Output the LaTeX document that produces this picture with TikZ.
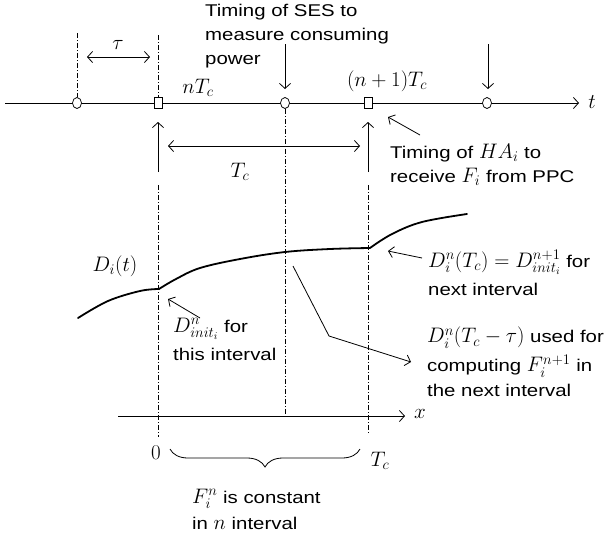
\RequirePackage{fix-cm}
\documentclass[tikz,border=0pt]{standalone}
\usepackage{fontspec}
\setmainfont[FakeStretch=1.2]{Liberation Sans}
\usetikzlibrary{arrows.meta,decorations.pathreplacing,shapes.geometric}
\newcommand{\MM}[1]{{\fontsize{21}{24}\selectfont$#1$}}
\begin{document}
\begin{tikzpicture}[x=1pt,y=-1pt,
  arr/.style={line width=0.8pt,-{Straight Barb[length=5pt,width=11pt]}},
  darr/.style={line width=0.8pt,{Straight Barb[length=5pt,width=11pt]}-{Straight Barb[length=5pt,width=11pt]}},
  dd/.style={line width=0.7pt,dash pattern=on 5pt off 2pt on 1pt off 2pt},
  txt/.style={font=\fontsize{17}{24}\selectfont, align=left, inner sep=0pt, anchor=north west},
  mtxt/.style={font=\fontsize{17}{28}\selectfont, align=left, inner sep=0pt, anchor=north west},
  lab/.style={font=\fontsize{21}{22}\selectfont, inner sep=0pt},
  circ/.style={draw, ellipse, minimum width=9pt, minimum height=11pt, inner sep=0pt, fill=white, line width=0.7pt},
  sq/.style={draw, rectangle, minimum width=8pt, minimum height=11pt, inner sep=0pt, fill=white, line width=0.7pt},
  curve/.style={line width=1.8pt, line cap=round, line join=round}]
\useasboundingbox (0,0) rectangle (613,544);

% time axis
\coordinate (t0) at (5,103);
\node[lab] (t) at (592,102) {$t$};
\coordinate (tend) at (579,103);
\draw[arr] (t0) -- (tend);

% vertical dash-dot lines
\coordinate (v1) at (77,33);
\coordinate (v2) at (158,35);
\coordinate (v2b) at (158,185);
\coordinate (v2e) at (158,437);
\coordinate (v3e) at (285,415);
\coordinate (v4b) at (368,185);
\coordinate (v4e) at (368,433);

\node[circ] (c1) at (77,103) {};
\node[sq] (s1) at (158,103) {};
\node[circ] (c2) at (285,103) {};
\node[sq] (s2) at (368,103) {};
\node[circ] (c3) at (487,103) {};

\draw[dd] (v1) -- (c1.north);
\draw[dd] (v2) -- (s1.north);
\draw[dd] (v2b) -- (v2e);
\draw[dd] (c2.south) -- (v3e);
\draw[dd] (v4b) -- (v4e);

% up arrows
\coordinate (a1s) at (158,172);
\coordinate (a1e) at (158,122);
\draw[arr] (a1s) -- (a1e);
\coordinate (a2s) at (368,172);
\coordinate (a2e) at (368,122);
\draw[arr] (a2s) -- (a2e);

% tau
\node[lab] (tau) at (118,45) {$\tau$};
\coordinate (ta) at (87,57);
\coordinate (tb) at (150,57);
\draw[darr] (ta) -- (tb);

\node[lab] (ntc) at (198,88) {$nT_c$};
\node[lab] (n1tc) at (387,81) {$(n+1)T_c$};

% Tc
\coordinate (ca) at (168,146);
\coordinate (cb) at (360,146);
\draw[darr] (ca) -- (cb);
\node[lab] (tcl) at (240,172) {$T_c$};

% SES text and down arrows
\node[txt] (ses) at (205,4) {Timing of SES to\\measure consuming\\power};
\coordinate (d1) at (285,44);
\coordinate (d1e) at (285,89);
\draw[arr] (d1) -- (d1e);
\coordinate (d2) at (488,44);
\coordinate (d2e) at (488,89);
\draw[arr] (d2) -- (d2e);

% HA text
\coordinate (h1) at (420,135);
\coordinate (h2) at (388,117);
\draw[arr] (h1) -- (h2);
\node[txt] (ha) at (390,144) {Timing of \MM{HA_i} to\\receive \MM{F_i} from PPC};

% curve
\node[lab] (dit) at (115,266) {$D_i(t)$};
\draw[curve] plot[smooth, tension=0.6] coordinates {(78,318) (108,301) (140,291) (159,289)};
\draw[curve] plot[smooth, tension=0.6] coordinates {(159,289) (176,279) (200,268) (240,259) (285,252) (330,249) (370,248)};
\draw[curve] plot[smooth, tension=0.6] coordinates {(370,248) (392,234) (422,222) (467,214)};

% init arrow
\coordinate (i1) at (200,318);
\coordinate (i2) at (168,299);
\draw[arr] (i1) -- (i2);
\node[mtxt] (init) at (173,318) {\MM{D^n_{init_i}} for\\this interval};

% next interval arrow
\coordinate (n1) at (422,258);
\coordinate (n2) at (388,251);
\draw[arr] (n1) -- (n2);
\node[mtxt] (nxt) at (428,250) {\MM{D^n_i(T_c)=D^{n+1}_{init_i}} for\\next interval};

% used-for arrow
\coordinate (u1) at (293,266);
\coordinate (u2) at (329,336);
\coordinate (u3) at (411,362);
\draw[arr] (u1) -- (u2) -- (u3);
\node[txt, font=\fontsize{17}{25}\selectfont] (used) at (427,327) {\MM{D^n_i(T_c-\tau)} used for\\[4pt]computing \MM{F^{n+1}_i} in\\the next interval};

% x axis
\coordinate (x0) at (118,416);
\coordinate (x1) at (405,416);
\draw[arr] (x0) -- (x1);
\node[lab] (xl) at (420,414) {$x$};
\node[lab] (zero) at (156,453) {$0$};
\node[lab] (tc2) at (380,461) {$T_c$};

% brace
\coordinate (b1) at (360,449);
\coordinate (b2) at (170,449);
\draw[line width=0.8pt, decorate, decoration={brace, amplitude=18pt}] (b1) -- (b2);
\node[txt, font=\fontsize{17}{26}\selectfont] (fconst) at (192,489) {\MM{F^n_i} is constant\\in \MM{n} interval};
\end{tikzpicture}
\end{document}
